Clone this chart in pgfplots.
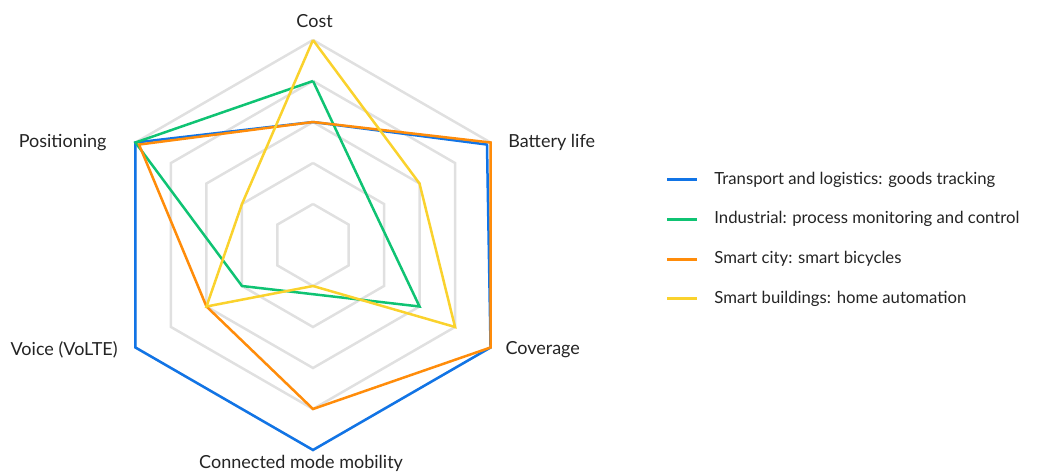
\documentclass[border=0pt]{standalone}
\usepackage{fontspec}
\setmainfont{Lato}
\usepackage{pgfplots}
\pgfplotsset{compat=1.18}
\usepgfplotslibrary{polar}
\definecolor{cblue}{HTML}{1174E6}
\definecolor{cgreen}{HTML}{0FC373}
\definecolor{corange}{HTML}{FF8C0A}
\definecolor{cyellow}{HTML}{FAD22D}
\definecolor{cgrid}{HTML}{E0E0E0}
\definecolor{ctext}{HTML}{242424}
\begin{document}
\begin{tikzpicture}
\begin{axis}[
  name=ax,
  width=1049bp, height=472bp, scale only axis,
  hide axis, clip=false,
  xmin=-7.634, xmax=17.951, ymin=-5.537, ymax=5.976,
  font=\fontsize{18bp}{21bp}\selectfont\color{ctext},
  legend style={at={(axis cs:8.60,0.14)}, anchor=west, draw=none, fill=none,
    inner sep=0pt, outer sep=0pt, row sep=24.7bp, column sep=16bp,
    nodes={inner sep=0pt, text height=12bp, text depth=3bp},
    font=\fontsize{16.7bp}{20bp}\selectfont\color{ctext}},
  legend cell align=left,
  legend image code/.code={\draw[#1, line width=2.8bp] (0bp,0bp) -- (30bp,0bp);},
  every axis plot/.append style={line width=2.5bp, mark=none, data cs=polar},
]
% grid hexagons
\addplot[cgrid, forget plot] coordinates {(90,1) (30,1) (-30,1) (-90,1) (210,1) (150,1) (90,1)};
\addplot[cgrid, forget plot] coordinates {(90,2) (30,2) (-30,2) (-90,2) (210,2) (150,2) (90,2)};
\addplot[cgrid, forget plot] coordinates {(90,3) (30,3) (-30,3) (-90,3) (210,3) (150,3) (90,3)};
\addplot[cgrid, forget plot] coordinates {(90,4) (30,4) (-30,4) (-90,4) (210,4) (150,4) (90,4)};
\addplot[cgrid, forget plot] coordinates {(90,5) (30,5) (-30,5) (-90,5) (210,5) (150,5) (90,5)};
% series: Cost, Battery life, Coverage, Connected mode mobility, Voice, Positioning
\addplot[cblue] coordinates {(90,3) (30,4.9) (-30,5) (-90,5) (210,5) (150,5) (90,3)};
\addlegendentry{Transport and logistics: goods tracking}
\addplot[cgreen] coordinates {(90,4) (30,1.71) (-30,3) (-90,1.2) (210,2) (150,5) (90,4)};
\addlegendentry{Industrial: process monitoring and control}
\addplot[corange] coordinates {(90,3) (30,5) (-30,5) (-90,4) (210,3) (150,4.9) (90,3)};
\addlegendentry{Smart city: smart bicycles}
\addplot[cyellow] coordinates {(90,5) (30,3) (-30,4) (-90,1) (210,3) (150,2) (90,5)};
\addlegendentry{Smart buildings: home automation}
% axis labels
\node[anchor=center] at (axis cs:0.04,5.46) {Cost};
\node[anchor=west] at (axis cs:4.68,2.50) {Battery life};
\node[anchor=west] at (axis cs:4.61,-2.56) {Coverage};
\node[anchor=center] at (axis cs:-0.29,-5.33) {Connected mode mobility};
\node[anchor=east] at (axis cs:-4.68,-2.56) {Voice (VoLTE)};
\node[anchor=east] at (axis cs:-4.95,2.50) {Positioning};
\end{axis}
\pgfresetboundingbox
\useasboundingbox (ax.south west) rectangle (ax.north east);
\end{tikzpicture}
\end{document}
